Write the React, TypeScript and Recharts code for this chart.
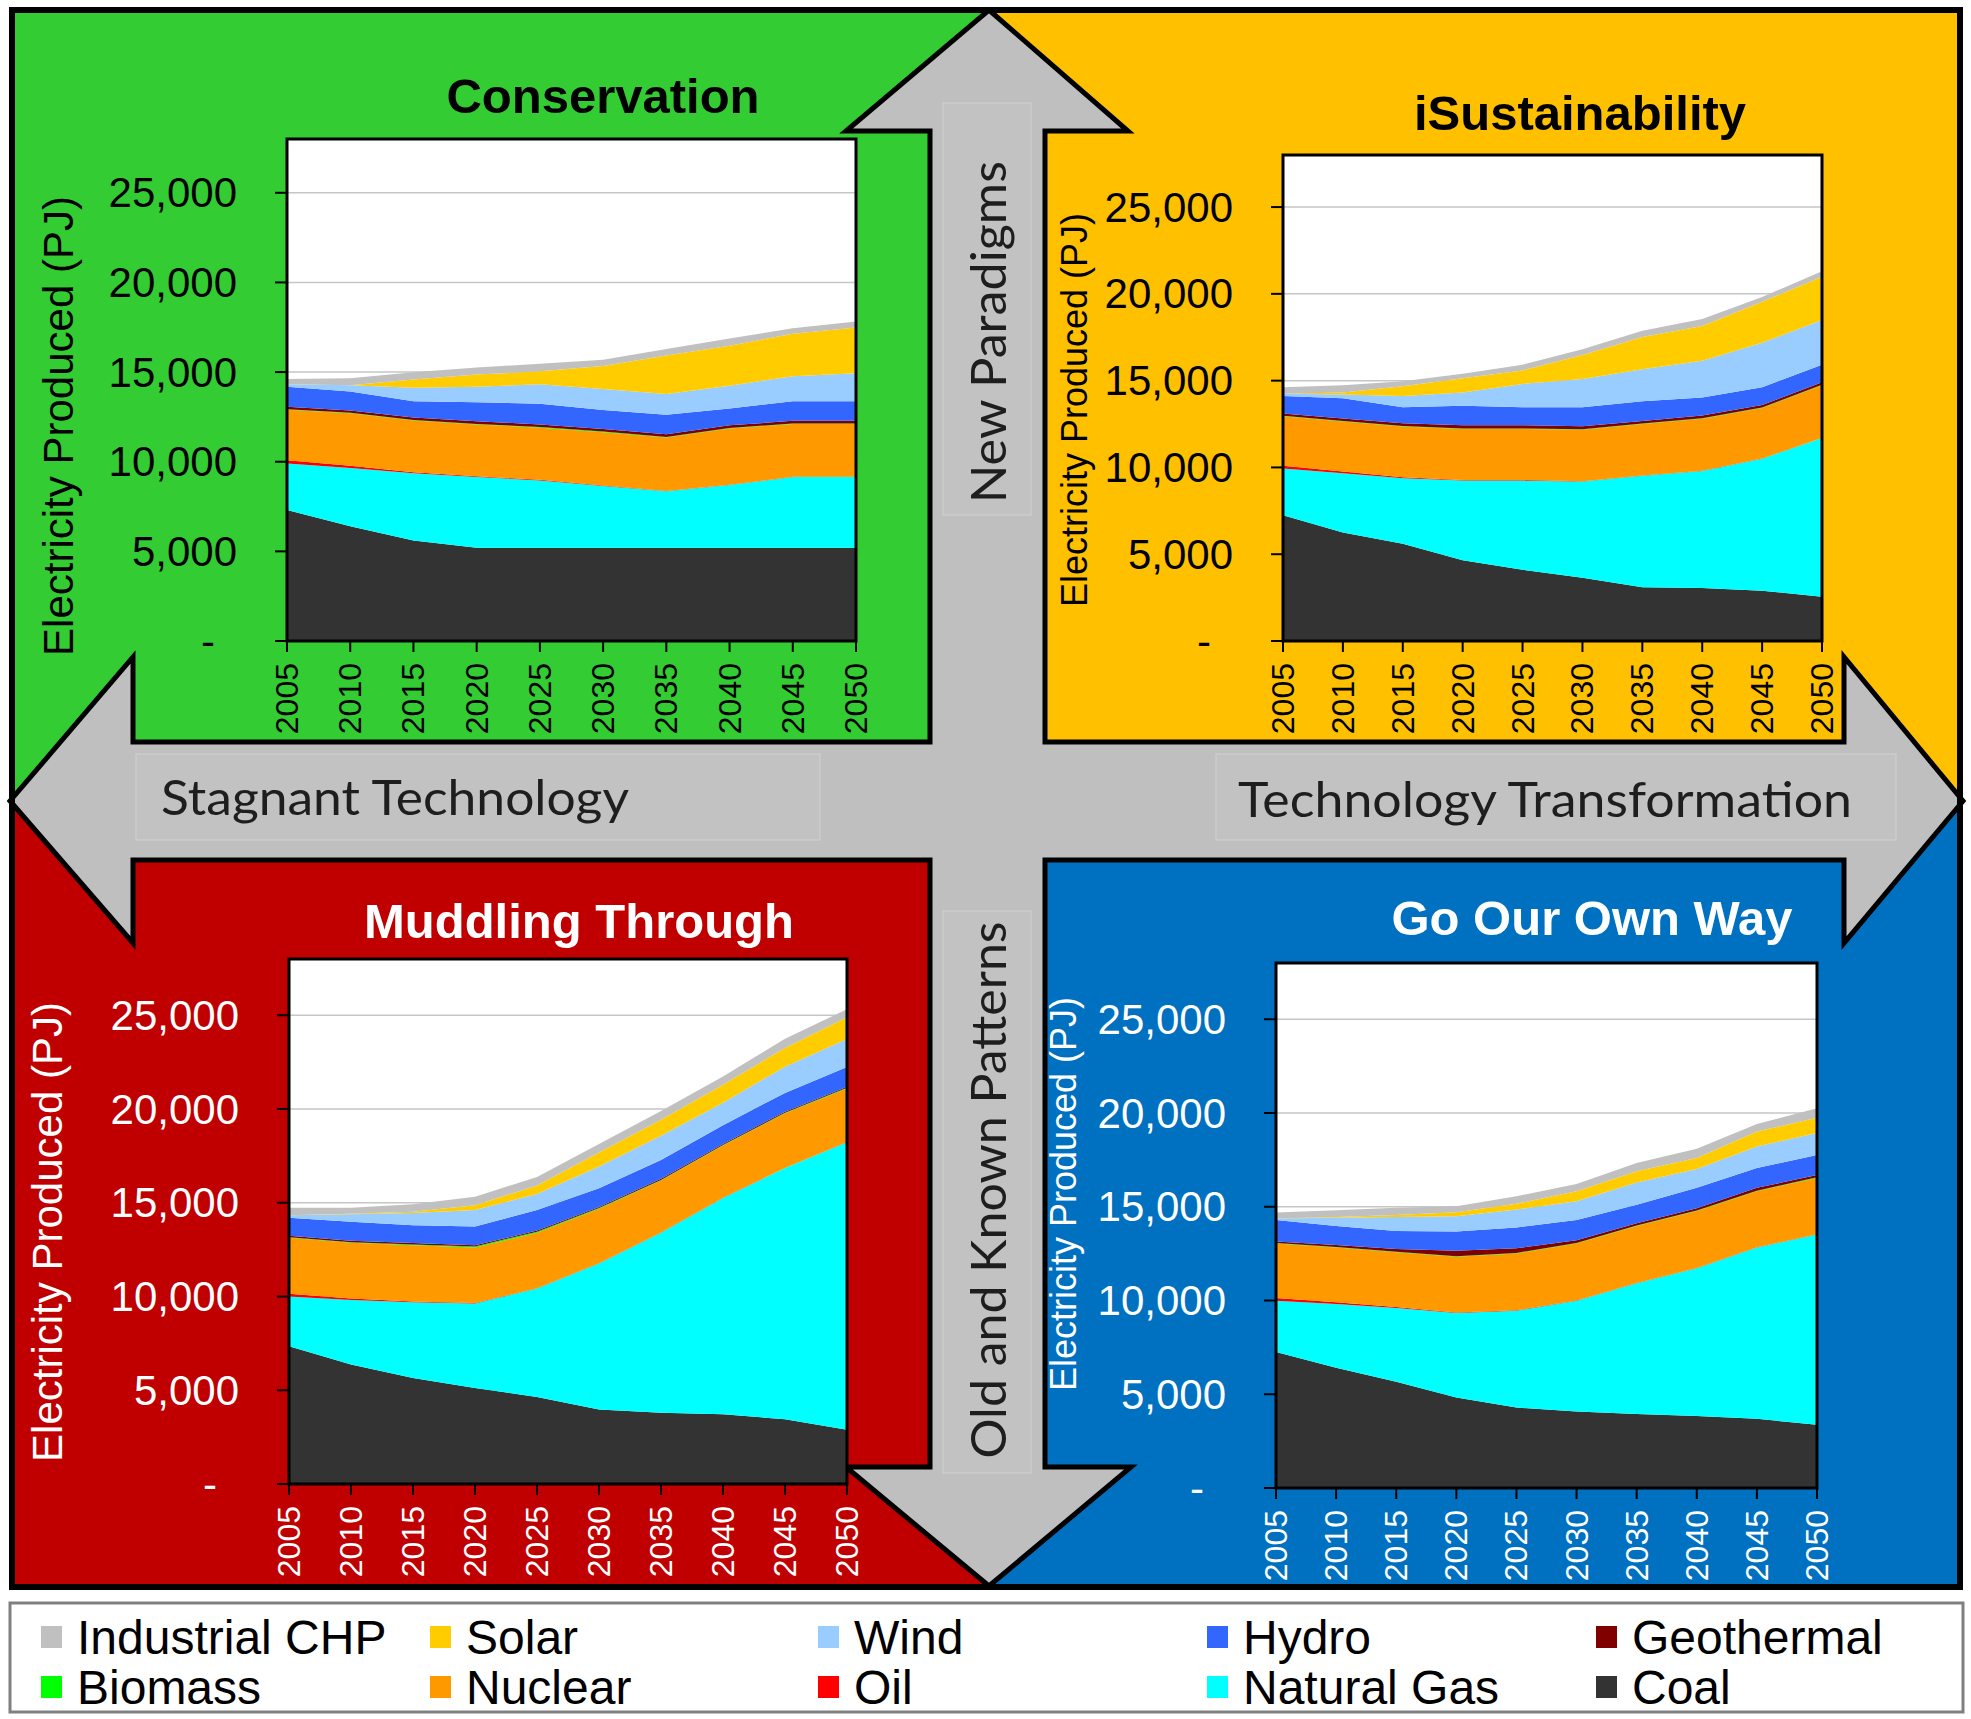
import React from 'react';
import { AreaChart, Area, XAxis, YAxis, CartesianGrid, ReferenceArea } from 'recharts';

const FONT = "'Liberation Sans', Arial, sans-serif";
const LABEL_FONT = "Lato, 'Open Sans', sans-serif";

const years = ['2005', '2010', '2015', '2020', '2025', '2030', '2035', '2040', '2045', '2050'];
const yTicks = [0, 5000, 10000, 15000, 20000, 25000];

// stacking order, bottom -> top
const sources = [
  { key: 'coal', name: 'Coal', color: '#333333' },
  { key: 'gas', name: 'Natural Gas', color: '#00FFFF' },
  { key: 'oil', name: 'Oil', color: '#FF0000' },
  { key: 'nuclear', name: 'Nuclear', color: '#FF9900' },
  { key: 'biomass', name: 'Biomass', color: '#00FF00' },
  { key: 'geothermal', name: 'Geothermal', color: '#800000' },
  { key: 'hydro', name: 'Hydro', color: '#3366FF' },
  { key: 'wind', name: 'Wind', color: '#99CCFF' },
  { key: 'solar', name: 'Solar', color: '#FFCC00' },
  { key: 'chp', name: 'Industrial CHP', color: '#C0C0C0' },
];

// Electricity produced (PJ) per scenario
const conservation: Record<string, number[]> = {
  coal: [7300, 6400, 5600, 5200, 5200, 5200, 5200, 5200, 5200, 5200],
  gas: [2600, 3250, 3750, 3950, 3750, 3450, 3150, 3500, 3950, 3950],
  oil: [180, 120, 60, 40, 40, 20, 10, 10, 10, 10],
  nuclear: [2820, 2930, 2890, 2890, 2910, 2980, 2990, 3140, 2940, 2940],
  biomass: [30, 30, 30, 30, 30, 30, 30, 30, 30, 30],
  geothermal: [130, 130, 130, 150, 150, 150, 150, 150, 150, 150],
  hydro: [1120, 1050, 910, 1060, 1160, 1060, 1090, 940, 1090, 1090],
  wind: [140, 350, 760, 860, 1080, 1160, 1160, 1270, 1400, 1570],
  solar: [0, 0, 460, 680, 720, 1290, 2150, 2230, 2370, 2550],
  chp: [300, 400, 400, 400, 420, 350, 350, 400, 300, 330],
};

const iSustainability: Record<string, number[]> = {
  coal: [7250, 6250, 5600, 4650, 4100, 3650, 3100, 3050, 2900, 2550],
  gas: [2690, 3410, 3780, 4590, 5140, 5540, 6420, 6750, 7600, 9140],
  oil: [150, 100, 50, 40, 30, 20, 10, 10, 10, 10],
  nuclear: [2860, 2880, 2930, 2940, 2950, 2960, 2970, 3000, 2910, 3030],
  biomass: [30, 30, 30, 30, 30, 30, 30, 30, 30, 30],
  geothermal: [130, 150, 150, 180, 180, 170, 150, 150, 150, 150],
  hydro: [1000, 1160, 930, 1130, 1040, 1100, 1130, 1040, 1020, 1010],
  wind: [140, 220, 640, 750, 1340, 1620, 1840, 2120, 2560, 2570],
  solar: [0, 110, 560, 830, 780, 1390, 1860, 2000, 2360, 2500],
  chp: [370, 420, 300, 260, 330, 330, 360, 400, 280, 310],
};

const muddlingThrough: Record<string, number[]> = {
  coal: [7350, 6370, 5650, 5120, 4640, 3980, 3800, 3720, 3450, 2890],
  gas: [2650, 3450, 4040, 4510, 5790, 7780, 9600, 11540, 13400, 15340],
  oil: [150, 80, 50, 20, 10, 10, 10, 10, 10, 10],
  nuclear: [2990, 2970, 3000, 2960, 2960, 2910, 2780, 2780, 2910, 2860],
  biomass: [20, 20, 30, 60, 60, 40, 30, 30, 30, 30],
  geothermal: [80, 80, 80, 60, 60, 60, 60, 60, 60, 60],
  hydro: [960, 1020, 950, 1000, 1100, 1000, 1000, 1000, 1000, 1050],
  wind: [130, 400, 660, 880, 850, 1150, 1300, 1200, 1400, 1490],
  solar: [0, 20, 60, 260, 450, 750, 850, 950, 1000, 1170],
  chp: [400, 320, 400, 450, 460, 450, 470, 450, 490, 420],
};

const goOurOwnWay: Record<string, number[]> = {
  coal: [7260, 6420, 5670, 4830, 4290, 4080, 3950, 3840, 3690, 3370],
  gas: [2730, 3390, 3930, 4500, 5170, 5910, 6970, 7880, 9140, 10150],
  oil: [150, 100, 50, 30, 20, 10, 10, 10, 10, 10],
  nuclear: [2900, 2920, 2920, 2970, 3030, 3040, 3040, 3040, 2990, 3010],
  biomass: [30, 30, 30, 30, 30, 30, 30, 30, 30, 30],
  geothermal: [80, 100, 150, 300, 250, 150, 120, 120, 150, 120],
  hydro: [1140, 1010, 960, 1020, 1100, 1070, 990, 1090, 1060, 1070],
  wind: [80, 450, 740, 820, 960, 1010, 1190, 1010, 1140, 1170],
  solar: [0, 30, 110, 210, 310, 530, 590, 580, 800, 820],
  chp: [320, 370, 390, 320, 400, 390, 450, 500, 400, 500],
};

const toRows = (values: Record<string, number[]>) =>
  years.map((year, i) => {
    const row: Record<string, any> = { year };
    sources.forEach((s) => { row[s.key] = values[s.key][i]; });
    return row;
  });

const Y_AXIS_W = 200;
const X_AXIS_H = 110;
const PAD_TOP = 6;
const PAD_RIGHT = 30;

const XTick = (props: any) => {
  const { x, y, payload, ink } = props;
  return (
    <text x={x} y={y} transform={`rotate(-90 ${x} ${y})`} textAnchor="end" dominantBaseline="central"
      fill={ink} fontSize={32} fontFamily={FONT}>
      {payload.value}
    </text>
  );
};

const YTick = (props: any) => {
  const { x, y, payload, ink } = props;
  const zero = payload.value === 0;
  return (
    <text x={zero ? x - 22 : x} y={y} textAnchor="end" dominantBaseline="central"
      fill={ink} fontSize={42} fontFamily={FONT}>
      {zero ? '-' : payload.value.toLocaleString('en-US')}
    </text>
  );
};

interface Plot { left: number; right: number; top: number; bottom: number }

const ScenarioChart = ({ plot, values, ink }: { plot: Plot; values: Record<string, number[]>; ink: string }) => {
  const width = plot.right - plot.left + Y_AXIS_W + PAD_RIGHT;
  const height = plot.bottom - plot.top + X_AXIS_H + PAD_TOP;
  return (
    <div style={{ position: 'absolute', left: plot.left - Y_AXIS_W, top: plot.top - PAD_TOP }}>
      <AreaChart width={width} height={height} data={toRows(values)}
        margin={{ top: PAD_TOP, right: PAD_RIGHT, left: 0, bottom: 0 }}>
        <CartesianGrid vertical={false} stroke="#C6C6C6" strokeWidth={1.5} fill="#FFFFFF" fillOpacity={1} />
        <XAxis dataKey="year" height={X_AXIS_H} interval={0} tickSize={11} tickMargin={11}
          axisLine={{ stroke: '#000', strokeWidth: 2 }} tickLine={{ stroke: '#000', strokeWidth: 2 }}
          tick={<XTick ink={ink} />} />
        <YAxis width={Y_AXIS_W} domain={[0, 28000]} ticks={yTicks} tickSize={12} tickMargin={38}
          axisLine={{ stroke: '#000', strokeWidth: 2 }} tickLine={{ stroke: '#000', strokeWidth: 2 }}
          tick={<YTick ink={ink} />} allowDataOverflow />
        {sources.map((s) => (
          <Area key={s.key} type="linear" dataKey={s.key} name={s.name} stackId="1"
            stroke="none" fill={s.color} fillOpacity={1} dot={false} activeDot={false}
            isAnimationActive={false} />
        ))}
        <ReferenceArea x1="2005" x2="2050" y1={0} y2={28000} fill="none" stroke="#000"
          strokeWidth={3} ifOverflow="visible" />
      </AreaChart>
    </div>
  );
};

const panels = [
  { title: 'Conservation', values: conservation, ink: '#000000', titleX: 603, titleY: 113,
    axisTitle: { x: 58, y: 426, size: 42 }, plot: { left: 287, right: 856, top: 139, bottom: 641 } },
  { title: 'iSustainability', values: iSustainability, ink: '#000000', titleX: 1580, titleY: 130,
    axisTitle: { x: 1074, y: 410, size: 36 }, plot: { left: 1283, right: 1822, top: 155, bottom: 641 } },
  { title: 'Muddling Through', values: muddlingThrough, ink: '#FFFFFF', titleX: 579, titleY: 938,
    axisTitle: { x: 47, y: 1232, size: 42 }, plot: { left: 289, right: 847, top: 959, bottom: 1484 } },
  { title: 'Go Our Own Way', values: goOurOwnWay, ink: '#FFFFFF', titleX: 1592, titleY: 935,
    axisTitle: { x: 1063, y: 1194, size: 36 }, plot: { left: 1276, right: 1817, top: 963, bottom: 1488 } },
];

const arrowPoints = [
  [989, 10], [1128, 131], [1045, 131], [1045, 742], [1844, 742], [1844, 657], [1963, 801],
  [1844, 943], [1844, 860], [1045, 860], [1045, 1467], [1131, 1467], [989, 1586], [846, 1467],
  [930, 1467], [930, 860], [133, 860], [133, 943], [10, 801], [133, 657], [133, 742],
  [930, 742], [930, 131], [846, 131],
].map((p) => p.join(',')).join(' ');

const legendOrder = [...sources].reverse();
const legendCols = [41, 430, 818, 1207, 1596];
const legendRows = [1626, 1676];

export default function App() {
  return (
    <div style={{ position: 'absolute', left: 0, top: 0, width: 1971, height: 1719, background: '#fff', fontFamily: FONT }}>
      <svg width={1971} height={1719} style={{ position: 'absolute', left: 0, top: 0 }}>
        {/* quadrants */}
        <rect x={12} y={10} width={977} height={791} fill="#33CC33" />
        <rect x={989} y={10} width={971} height={791} fill="#FFC000" />
        <rect x={12} y={801} width={977} height={786} fill="#C00000" />
        <rect x={989} y={801} width={971} height={786} fill="#0070C0" />

        {/* scenario arrows */}
        <polygon points={arrowPoints} fill="#BFBFBF" stroke="#000" strokeWidth={5} strokeLinejoin="miter" />
        <rect x={136} y={754} width={684} height={86} fill="#C2C2C2" stroke="#CCCCCC" strokeWidth={1.5} />
        <rect x={1216} y={754} width={680} height={86} fill="#C2C2C2" stroke="#CCCCCC" strokeWidth={1.5} />
        <rect x={943} y={103} width={88} height={412} fill="#C2C2C2" stroke="#CCCCCC" strokeWidth={1.5} />
        <rect x={943} y={911} width={88} height={562} fill="#C2C2C2" stroke="#CCCCCC" strokeWidth={1.5} />
        <g fill="#1E1E1E" fontFamily={LABEL_FONT} fontSize={48}>
          <text x={161} y={815} textLength={468} lengthAdjust="spacingAndGlyphs">Stagnant Technology</text>
          <text x={1238} y={817} textLength={614} lengthAdjust="spacingAndGlyphs">Technology Transformation</text>
          <text x={1006} y={332} transform="rotate(-90 1006 332)" textAnchor="middle" textLength={342}
            lengthAdjust="spacingAndGlyphs">New Paradigms</text>
          <text x={1006} y={1190} transform="rotate(-90 1006 1190)" textAnchor="middle" textLength={537}
            lengthAdjust="spacingAndGlyphs">Old and Known Patterns</text>
        </g>

        {/* panel titles and axis titles */}
        {panels.map((p) => (
          <g key={p.title}>
            <text x={p.titleX} y={p.titleY} textAnchor="middle" fontWeight="bold" fontSize={49} fill={p.ink}>
              {p.title}
            </text>
            <text x={p.axisTitle.x} y={p.axisTitle.y} transform={`rotate(-90 ${p.axisTitle.x} ${p.axisTitle.y})`}
              textAnchor="middle" dominantBaseline="central" fontSize={p.axisTitle.size} fill={p.ink}>
              Electricity Produced (PJ)
            </text>
          </g>
        ))}

        <rect x={12} y={10} width={1948} height={1577} fill="none" stroke="#000" strokeWidth={6} />

        {/* legend */}
        <rect x={10} y={1603} width={1953} height={109} fill="#fff" stroke="#808080" strokeWidth={3} />
        {legendOrder.map((s, i) => {
          const cx = legendCols[i % 5];
          const cy = legendRows[Math.floor(i / 5)];
          return (
            <g key={s.key}>
              <rect x={cx} y={cy} width={21} height={22} fill={s.color} />
              <text x={cx + 36} y={cy + 28} fontSize={48} fill="#000">
                {s.name}
              </text>
            </g>
          );
        })}
      </svg>

      {panels.map((p) => (
        <ScenarioChart key={p.title} plot={p.plot} values={p.values} ink={p.ink} />
      ))}
    </div>
  );
}
